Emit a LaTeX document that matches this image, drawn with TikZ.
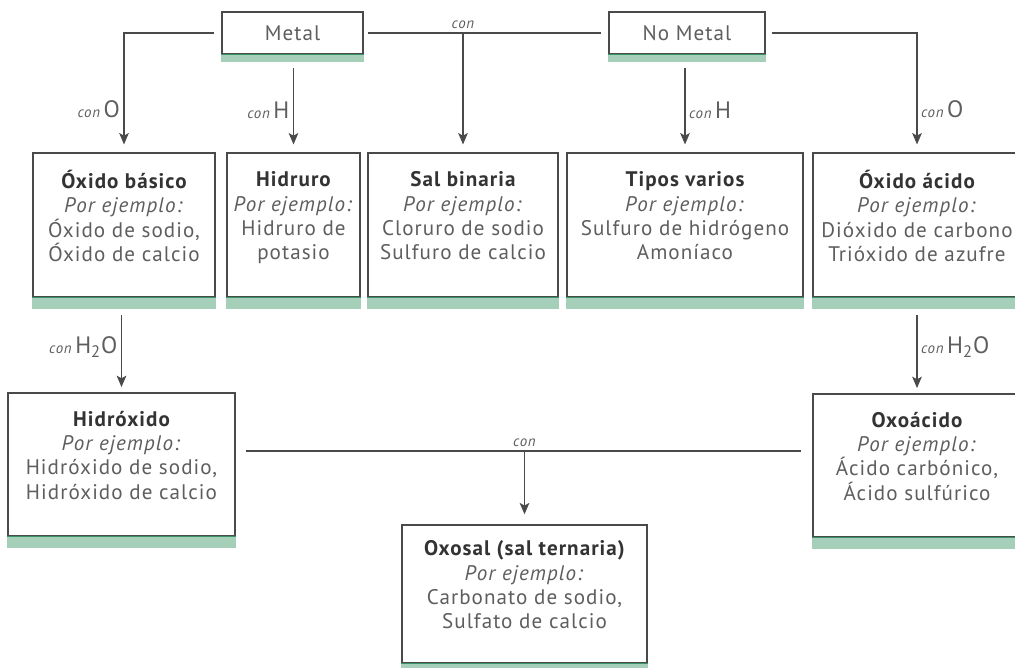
\documentclass[tikz,border=0pt]{standalone}
\usepackage{fontspec}
\setmainfont{PT Sans}[LetterSpace=5]
\usetikzlibrary{arrows.meta}

\definecolor{boxgray}{HTML}{4A4A4A}
\definecolor{txtgray}{HTML}{5E5E5E}
\definecolor{titlegray}{HTML}{333333}
\definecolor{bandgreen}{HTML}{A6CFBA}
\definecolor{linegreen}{HTML}{3A9468}

\newcommand{\boxtitle}[1]{{\bfseries\color{titlegray}#1}}
\newcommand{\porej}{\textit{Por ejemplo:}}
\newcommand{\conlbl}[1]{{\fontsize{8.5}{10}\selectfont\itshape con}\,{\fontsize{13.5}{14}\selectfont #1}}

\tikzset{
  link/.style={draw=boxgray, line width=0.7pt},
  arrow/.style={link, -{Stealth[length=6.5pt,width=5.5pt,inset=1.5pt]}},
  conlabel/.style={inner sep=2pt, font=\fontsize{8.5}{10}\selectfont\itshape}
}

\begin{document}
\begin{tikzpicture}[x=0.02cm, y=-0.02cm, font=\fontsize{12}{13.8}\selectfont, text=txtgray]

      \clip (0,0) rectangle (1015,668);

      \begin{scope}[every node/.style={draw=boxgray,line width=0.75pt,fill=white,align=center,inner sep=0pt}]
        \node[minimum width=2.82cm, minimum height=0.84cm] (metal)   at (292.5,33) {Metal};
        \node[minimum width=3.12cm, minimum height=0.84cm] (nometal) at (687,33)   {No Metal};
      \end{scope}

      \begin{scope}[every node/.style={draw=boxgray,line width=0.75pt,fill=white,align=center,inner sep=0pt,text depth=10.5pt}]
        \node[minimum width=3.64cm, minimum height=2.88cm] (basico)  at (124,225)  {\boxtitle{Óxido básico}\\\porej\\Óxido de sodio,\\Óxido de calcio};
        \node[minimum width=2.66cm, minimum height=2.88cm] (hidruro) at (293.5,225) {\boxtitle{Hidruro}\\\porej\\Hidruro de\\potasio};
        \node[minimum width=3.80cm, minimum height=2.88cm] (salbin)  at (463,225)  {\boxtitle{Sal binaria}\\\porej\\Cloruro de sodio\\Sulfuro de calcio};
        \node[minimum width=4.72cm, minimum height=2.88cm] (tipos)   at (685,225)  {\boxtitle{Tipos varios}\\\porej\\Sulfuro de hidrógeno\\Amoníaco};
        \node[minimum width=4.16cm, minimum height=2.88cm] (acido)   at (917,225)  {\boxtitle{Óxido ácido}\\\porej\\Dióxido de carbono\\Trióxido de azufre};
        \node[minimum width=4.54cm, minimum height=2.86cm] (hidroxido) at (121.5,464.5) {\boxtitle{Hidróxido}\\\porej\\Hidróxido de sodio,\\Hidróxido de calcio};
        \node[minimum width=4.16cm, minimum height=2.86cm] (oxoacido)  at (917,465.5)   {\boxtitle{Oxoácido}\\\porej\\Ácido carbónico,\\Ácido sulfúrico};
        \node[minimum width=4.90cm, minimum height=2.76cm] (oxosal)    at (524.5,594)   {\boxtitle{Oxosal (sal ternaria)}\\\porej\\Carbonato de sodio,\\Sulfato de calcio};
      \end{scope}

      \foreach \n/\h in {metal/0.14,nometal/0.14,basico/0.22,hidruro/0.22,salbin/0.22,tipos/0.22,acido/0.22,hidroxido/0.22,oxoacido/0.22,oxosal/0.22} {
        \fill[bandgreen] (\n.south west) rectangle ([yshift=-\h cm]\n.south east);
        \draw[linegreen,line width=0.8pt] (\n.south west) -- (\n.south east);
      }

      \coordinate (con1) at (salbin.north |- metal.east);
      \coordinate (mixrow) at (0,451);
      \coordinate (con2) at (oxosal.north |- mixrow);

      \draw[link, shorten <=2.3pt, shorten >=4pt] (metal.east) -- (nometal.west);
      \node[conlabel, above] (contop) at (con1) {con};
      \draw[arrow, shorten >=4.5pt] (con1) -- (salbin.north);

      \draw[arrow, shorten <=4pt, shorten >=4.5pt] (metal.west) -| node[pos=0.82,left,inner sep=2pt] {\conlbl{O}} (basico.north);
      \draw[arrow, shorten <=7.4pt, shorten >=4.5pt] (hidruro.north |- metal.south) -- node[pos=0.57,left,inner sep=2pt] {\conlbl{H}} (hidruro.north);
      \draw[arrow, shorten <=7.4pt, shorten >=4.5pt] (tipos.north |- nometal.south) -- node[pos=0.57,right,inner sep=2pt] {\conlbl{H}} (tipos.north);
      \draw[arrow, shorten <=3.4pt, shorten >=4.5pt] (nometal.east) -| node[pos=0.82,right,inner sep=2pt] {\conlbl{O}} (acido.north);

      \draw[arrow, shorten <=10pt, shorten >=3pt] (hidroxido.north |- basico.south) -- node[pos=0.52,left,inner sep=2pt] {\conlbl{H\textsubscript{2}O}} (hidroxido.north);
      \draw[arrow, shorten <=10pt, shorten >=3pt] (oxoacido.north |- acido.south) -- node[pos=0.52,right,inner sep=2pt] {\conlbl{H\textsubscript{2}O}} (oxoacido.north);

      \draw[link, shorten <=5.7pt, shorten >=6.2pt] (hidroxido.east |- con2) -- (oxoacido.west |- con2);
      \node[conlabel, above] (conbot) at (con2) {con};
      \draw[arrow, shorten >=5.7pt] (con2) -- (oxosal.north);

    \end{tikzpicture}
\end{document}
